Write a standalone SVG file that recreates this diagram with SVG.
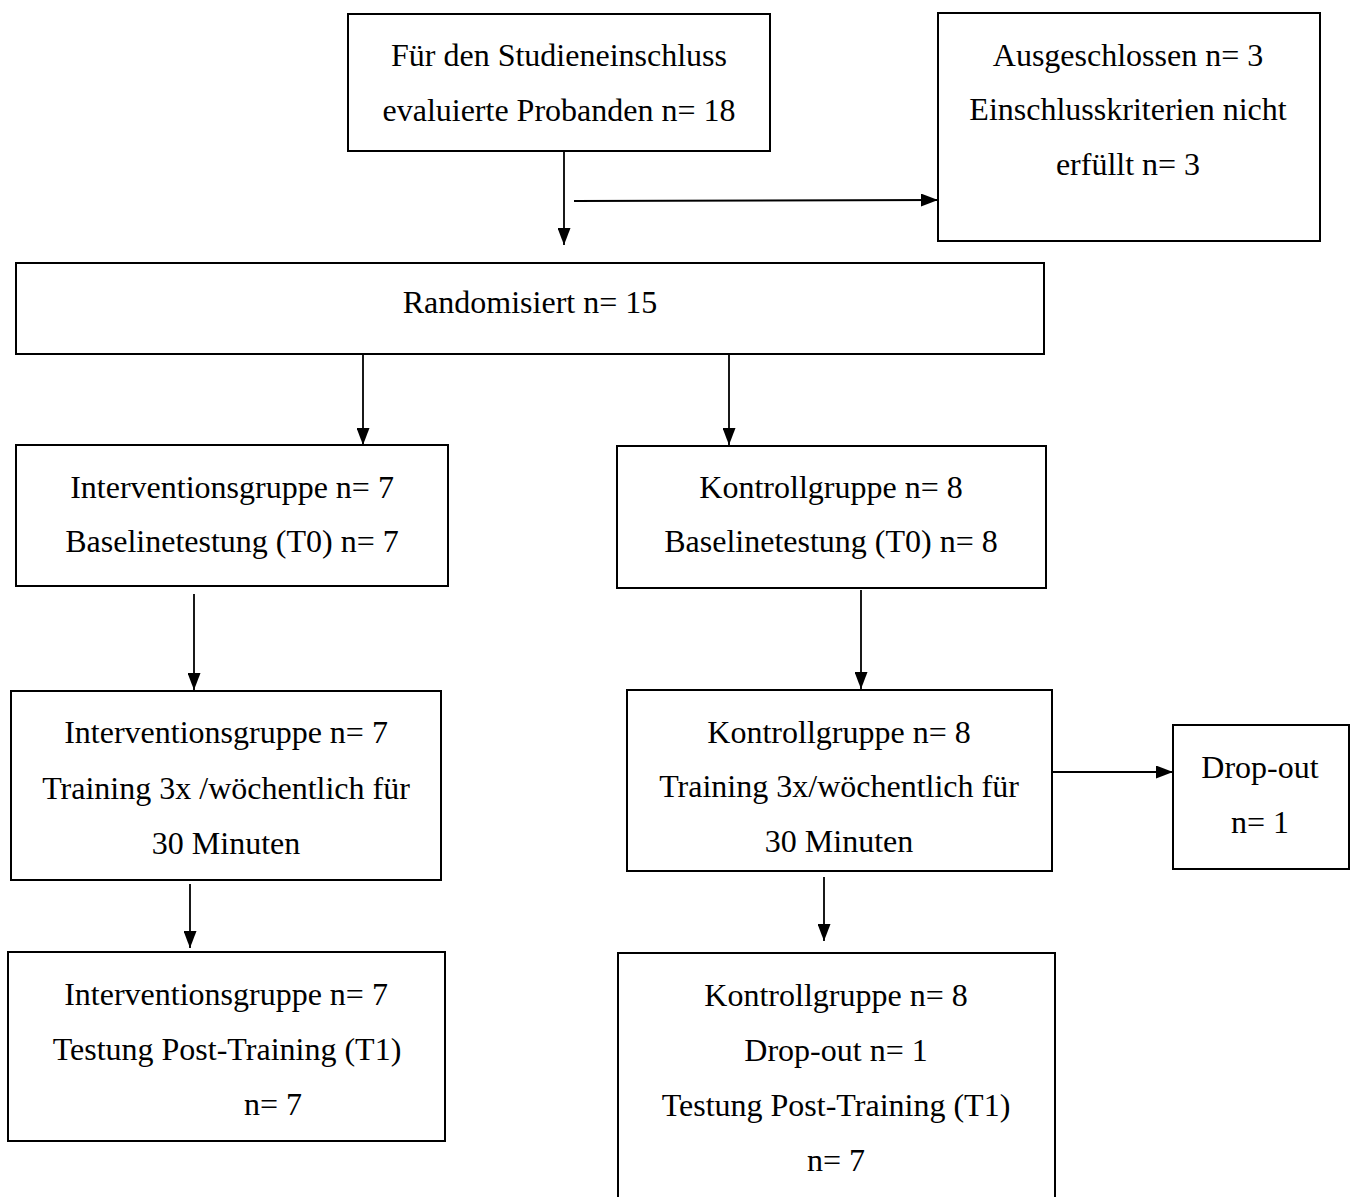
<svg xmlns="http://www.w3.org/2000/svg" width="1357" height="1197" viewBox="0 0 1357 1197">
<defs>
<style>
.box{fill:#fff;stroke:#000;stroke-width:2}
.t{font-family:"Liberation Serif","Times New Roman",serif;font-size:32px;fill:#000;text-anchor:middle}
.c{stroke:#000;stroke-width:1.8;fill:none}
</style>
<marker id="ah" viewBox="0 0 17 13" refX="17" refY="6.5" markerWidth="17" markerHeight="13" markerUnits="userSpaceOnUse" orient="auto">
<path d="M0,0 L17,6.5 L0,13 z" fill="#000"/>
</marker>
</defs>
<rect width="1357" height="1197" fill="#fff"/>
<g id="connectors">
<line class="c" x1="564" y1="151" x2="564" y2="245" marker-end="url(#ah)"/>
<line class="c" x1="574" y1="201" x2="938" y2="200" marker-end="url(#ah)"/>
<line class="c" x1="363" y1="354" x2="363" y2="445" marker-end="url(#ah)"/>
<line class="c" x1="729" y1="354" x2="729" y2="445" marker-end="url(#ah)"/>
<line class="c" x1="194" y1="594" x2="194" y2="690" marker-end="url(#ah)"/>
<line class="c" x1="861" y1="590" x2="861" y2="689" marker-end="url(#ah)"/>
<line class="c" x1="190" y1="884" x2="190" y2="948" marker-end="url(#ah)"/>
<line class="c" x1="824" y1="877" x2="824" y2="941" marker-end="url(#ah)"/>
<line class="c" x1="1052" y1="772" x2="1173" y2="772" marker-end="url(#ah)"/>
</g>
<g id="n-evaluiert">
<rect class="box" x="348" y="14" width="422" height="137"/>
<text class="t" x="559" y="66">Für den Studieneinschluss</text>
<text class="t" x="559" y="121">evaluierte Probanden n= 18</text>
</g>
<g id="n-ausgeschlossen">
<rect class="box" x="938" y="13" width="382" height="228"/>
<text class="t" x="1128" y="66">Ausgeschlossen n= 3</text>
<text class="t" x="1128" y="120">Einschlusskriterien nicht</text>
<text class="t" x="1128" y="175">erfüllt n= 3</text>
</g>
<g id="n-randomisiert">
<rect class="box" x="16" y="263" width="1028" height="91"/>
<text class="t" x="530" y="313">Randomisiert n= 15</text>
</g>
<g id="n-int-baseline">
<rect class="box" x="16" y="445" width="432" height="141"/>
<text class="t" x="232" y="498">Interventionsgruppe n= 7</text>
<text class="t" x="232" y="552">Baselinetestung (T0) n= 7</text>
</g>
<g id="n-kon-baseline">
<rect class="box" x="617" y="446" width="429" height="142"/>
<text class="t" x="831" y="498">Kontrollgruppe n= 8</text>
<text class="t" x="831" y="552">Baselinetestung (T0) n= 8</text>
</g>
<g id="n-int-training">
<rect class="box" x="11" y="691" width="430" height="189"/>
<text class="t" x="226" y="743">Interventionsgruppe n= 7</text>
<text class="t" x="226" y="799">Training 3x /wöchentlich für</text>
<text class="t" x="226" y="854">30 Minuten</text>
</g>
<g id="n-kon-training">
<rect class="box" x="627" y="690" width="425" height="181"/>
<text class="t" x="839" y="743">Kontrollgruppe n= 8</text>
<text class="t" x="839" y="797">Training 3x/wöchentlich für</text>
<text class="t" x="839" y="852">30 Minuten</text>
</g>
<g id="n-dropout">
<rect class="box" x="1173" y="725" width="176" height="144"/>
<text class="t" x="1260" y="778">Drop-out</text>
<text class="t" x="1260" y="833">n= 1</text>
</g>
<g id="n-int-post">
<rect class="box" x="8" y="952" width="437" height="189"/>
<text class="t" x="226" y="1005">Interventionsgruppe n= 7</text>
<text class="t" x="227" y="1060">Testung Post-Training (T1)</text>
<text class="t" x="273" y="1115">n= 7</text>
</g>
<g id="n-kon-post">
<rect class="box" x="618" y="953" width="437" height="270"/>
<text class="t" x="836" y="1006">Kontrollgruppe n= 8</text>
<text class="t" x="836" y="1061">Drop-out n= 1</text>
<text class="t" x="836" y="1116">Testung Post-Training (T1)</text>
<text class="t" x="836" y="1171">n= 7</text>
</g>
</svg>
